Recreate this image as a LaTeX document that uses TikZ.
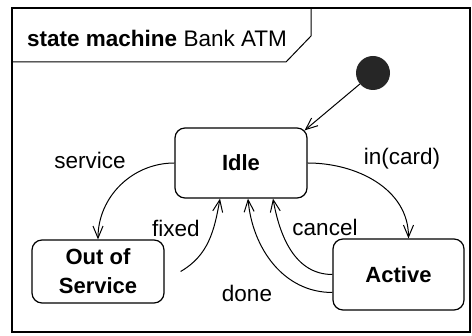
\documentclass[tikz,border=0pt]{standalone}
\usepackage{fontspec}
\setmainfont{Liberation Sans}
\usetikzlibrary{arrows.meta,positioning,calc}
\tikzset{>={Straight Barb[length=12pt,width=10pt]}}
\tikzset{state/.style={draw, rounded corners=10pt, line width=1.2pt, align=center,
    inner sep=0pt, font=\bfseries\fontsize{22}{29}\selectfont}}
\tikzset{trans/.style={->, line width=1pt}}
\tikzset{lbl/.style={inner sep=0pt, font=\fontsize{22.5}{26}\selectfont}}

\begin{document}
\begin{tikzpicture}[x=1pt,y=1pt]
      \useasboundingbox (0,0) rectangle (472,336);
      % frame with its name tab
      \draw[line width=1.1pt] (12,4) rectangle (470,328);
      \draw[line width=1pt] (12,274) -- (286,274) -- (311,300) -- (311,328);
      \node[lbl, anchor=base west] (title) at (27,289) {\textbf{state machine} Bank ATM};
      % states
      \node[circle, fill=black!85, minimum size=34pt, inner sep=0pt] (init) at (373,263) {};
      \node[state, minimum width=132pt, minimum height=70pt] (idle) at (241,173) {Idle};
      \node[state, minimum width=132pt, minimum height=63pt] (oos) at (98,64.5) {Out of\\Service};
      \node[state, minimum width=131pt, minimum height=71pt] (active) at (398.5,61.5) {Active};
      % transitions
      \draw[trans] (init) -- ([xshift=-3pt,yshift=-3pt]idle.north east);
      \draw[trans] (idle.west) to[out=180,in=90] (oos.north);
      \draw[trans] (idle.east) to[out=0,in=90] ([xshift=10pt]active.north);
      \draw[trans] ([xshift=16pt]oos.east) to[out=30,in=-100] ([xshift=-21pt]idle.south);
      \draw[trans] ([yshift=-18pt]active.west) to[out=180,in=-85] ([xshift=7pt]idle.south);
      \draw[trans] (active.west) to[out=180,in=-80] ([xshift=32pt]idle.south);
      % labels
      \node[lbl] (service) at (90,176) {service};
      \node[lbl] (incard) at (402,177) {in(card)};
      \node[lbl] (fixed) at (176,108) {fixed};
      \node[lbl] (cancel) at (325,109) {cancel};
      \node[lbl] (done) at (247,42.5) {done};
\end{tikzpicture}
\end{document}
